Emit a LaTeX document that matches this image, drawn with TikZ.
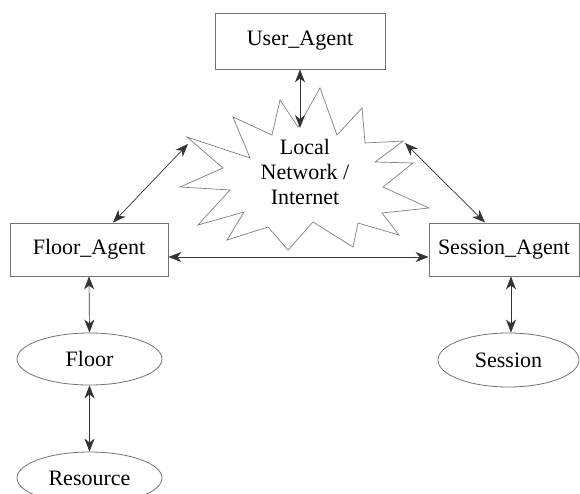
\documentclass[tikz,border=0pt]{standalone}
\usepackage{fontspec}
\setmainfont{Liberation Serif}
\usetikzlibrary{arrows.meta,shapes.geometric}
\begin{document}
\begin{tikzpicture}[x=1pt,y=-1pt,
  every node/.style={font=\fontsize{22}{25}\selectfont, inner sep=0pt},
  agentbox/.style={draw=black!55, line width=0.8pt, rectangle},
  res/.style={draw=black!55, line width=0.8pt, ellipse},
  conn/.style={draw=black!80, line width=0.7pt, {Stealth[length=13pt,width=10pt,inset=4pt]}-{Stealth[length=13pt,width=10pt,inset=4pt]}},
  burstline/.style={draw=black!50, line width=0.7pt, line join=miter}]
\useasboundingbox (0,0) rectangle (580,494);
\fill[white] (0,0) rectangle (580,494);

% burst outline
\draw[burstline] (187,137) -- (250,158) -- (233,117) -- (272,135) -- (280,100) -- (298,127) -- (320,88) -- (337,135) -- (362,108) -- (365,143) -- (403,141) -- (375,162) -- (413,163) -- (383,187) -- (429,208) -- (382,213) -- (399,235) -- (358,223) -- (353,247) -- (313,222) -- (288,250) -- (268,227) -- (227,240) -- (244,212) -- (198,225) -- (230,190) -- (180,187) -- (223,168) -- cycle;
\coordinate (btop) at (300,128);
\coordinate (bleft) at (188,144);
\coordinate (bright) at (405,143);
\node[align=center, font=\fontsize{22}{25}\selectfont] (net) at (305,172) {Local\\Network /\\Internet};

\node[agentbox, minimum width=170pt, minimum height=56pt] (ua) at (300,41) {User\_Agent};
\node[agentbox, minimum width=158pt, minimum height=53pt] (fa) at (89,249.5) {Floor\_Agent};
\node[agentbox, minimum width=150pt, minimum height=53pt] (sa) at (504,249.5) {Session\_Agent};
\node[res, minimum width=145pt, minimum height=52pt] (fl) at (89.5,359) {Floor};
\node[res, minimum width=141pt, minimum height=54pt] (ses) at (508.5,360) {Session};
\node[res, minimum width=145pt, minimum height=52pt] (rs) at (89.5,478) {Resource};

\draw[conn] (ua.south) -- (btop);
\draw[conn] ([xshift=24pt]fa.north) -- (bleft);
\draw[conn] ([xshift=-19pt]sa.north) -- (bright);
\draw[conn] ([yshift=-7.5pt]fa.east) -- ([yshift=-7.5pt]sa.west);
\draw[conn] (fa.south) -- (fl.north);
\draw[conn] (fl.south) -- (rs.north);
\draw[conn] ([xshift=7pt]sa.south) -- ([xshift=2.5pt]ses.north);
\end{tikzpicture}
\end{document}
